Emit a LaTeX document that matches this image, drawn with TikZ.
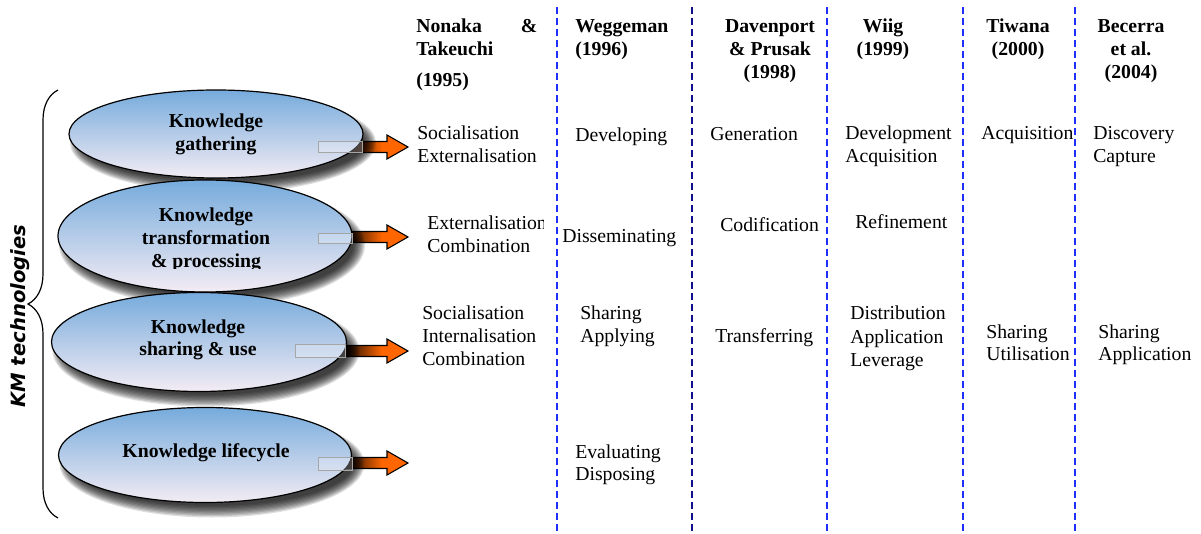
\documentclass[tikz,border=0pt]{standalone}
\usepackage{fontspec}
\setmainfont{Liberation Serif}
\newfontfamily\kmsans{DejaVu Sans}
\usetikzlibrary{shapes.geometric,decorations.pathreplacing,calc}
\definecolor{ellTop}{HTML}{76ABDC}
\definecolor{ellMid}{HTML}{98C6EC}
\definecolor{ellBot}{HTML}{F3ECF4}
\definecolor{arrOr}{HTML}{FF6600}
\definecolor{arrDk}{HTML}{2A1200}
\definecolor{dashBlue}{HTML}{1F2FFF}
\definecolor{dashNavy}{HTML}{10108F}
\newcommand\kmlines[2][l]{\begin{tabular}[t]{@{}#1@{}}#2\end{tabular}}
\newcommand\kmshadow[3]{%
  \foreach \k in {0,...,9}{%
    \fill[black,opacity=0.13] ($(#1)+(7,9)$) ellipse [x radius={(#2+6-1.3*\k)*0.75pt}, y radius={(#3+6-1.3*\k)*0.75pt}];}}
\newcommand\kmarrow[1]{%
  \fill[arrDk] ($(#1)+(-95,-5.5)$) rectangle ($(#1)+(-60,5.5)$);
  \shade[left color=arrDk, right color=arrOr] ($(#1)+(-60,-5.5)$) rectangle ($(#1)+(-26,5.5)$);
  \fill[arrOr] ($(#1)+(-26.5,-5.5)$) rectangle ($(#1)+(-21,5.5)$);
  \fill[arrOr] ($(#1)+(-21,-12)$) -- (#1) -- ($(#1)+(-21,12)$) -- cycle;
  \draw[line width=0.8pt, line join=miter] ($(#1)+(-95,-5.5)$) -- ($(#1)+(-21,-5.5)$) -- ($(#1)+(-21,-12)$) -- (#1) -- ($(#1)+(-21,12)$) -- ($(#1)+(-21,5.5)$) -- ($(#1)+(-95,5.5)$);}
\tikzset{
  kmell/.style={ellipse, draw=black, line width=0.9pt, top color=ellTop, middle color=ellMid, bottom color=ellBot, inner sep=0pt},
  kmtxt/.style={anchor=base west, inner sep=0pt},
  kmhead/.style={anchor=base, inner sep=0pt, font=\fontsize{14.8}{17.25}\selectfont\bfseries},
  kmin/.style={anchor=base, inner sep=0pt, font=\fontsize{14.8}{17}\selectfont\bfseries},
  kmdash/.style={dash pattern=on 5.25pt off 3pt, line width=1.3pt},
  kmgrey/.style={draw=gray!70, line width=0.6pt, fill=white, fill opacity=0.25},
}
\begin{document}
\begin{tikzpicture}[x=0.75pt,y=-0.75pt, font=\fontsize{14.8}{17}\selectfont]
\useasboundingbox (0,0) rectangle (1201,534);
% dashed separators
\foreach \n/\xx/\cc in {1/557/dashBlue,2/692/dashNavy,3/827/dashBlue,4/963/dashBlue,5/1075/dashBlue}{
  \coordinate (dt\n) at (\xx,7);
  \coordinate (db\n) at (\xx,534);
  \draw[kmdash, \cc] (dt\n) -- (db\n);
}
% ellipse centres and arrow tips
\coordinate (c1) at (216,134);
\coordinate (c2) at (205,236);
\coordinate (c3) at (199,342);
\coordinate (c4) at (205,455);
\coordinate (a1) at (408,147);
\coordinate (a2) at (408,237);
\coordinate (a3) at (408,351);
\coordinate (a4) at (408,463);
% arrows
\kmarrow{a1}
\kmarrow{a2}
\kmarrow{a3}
\kmarrow{a4}
% shadows
\kmshadow{c1}{147}{44}
\kmshadow{c2}{147}{56}
\kmshadow{c3}{147.5}{49.5}
\kmshadow{c4}{146.5}{47.5}
% ellipses
\node[kmell, minimum width=220.5pt, minimum height=66pt] (e1) at (c1) {};
\node[kmell, minimum width=220.5pt, minimum height=84pt] (e2) at (c2) {};
\node[kmell, minimum width=221.25pt, minimum height=74.25pt] (e3) at (c3) {};
\node[kmell, minimum width=219.75pt, minimum height=71.25pt] (e4) at (c4) {};
% grey boxes
\draw[kmgrey] (318,141) rectangle (362,152);
\draw[kmgrey] (318,233) rectangle (352,243);
\draw[kmgrey] (295,344) rectangle (345,357);
\draw[kmgrey] (318,457) rectangle (352,470);
% ellipse texts
\node[kmin] (t1) at (216,128) {\kmlines[c]{Knowledge\\gathering}};
\begin{scope}
  \clip (100,195) rectangle (320,268.5);
  \node[kmin] (t2) at (206,222) {\kmlines[c]{Knowledge\\transformation\\\& processing}};
\end{scope}
\node[kmin] (t3) at (198,333) {\kmlines[c]{Knowledge\\sharing \& use}};
\node[kmin] (t4) at (206,457) {Knowledge lifecycle};
% brace and side label
\coordinate (bt) at (58,90);
\coordinate (bb) at (58,518);
\draw[decorate, decoration={brace, amplitude=22.5pt}, line width=0.9pt] (bb) -- (bt);
\node[rotate=90, anchor=base, inner sep=0pt, font=\kmsans\bfseries\itshape\fontsize{14.7}{16}\selectfont] (km) at (25,316) {KM technologies};
% headers
\node[kmtxt, font=\fontsize{14.8}{17.25}\selectfont\bfseries] (h1) at (416,33) {\kmlines{\makebox[90.75pt][s]{Nonaka\hfill\&}\\Takeuchi\\[6pt](1995)}};
\node[kmtxt, font=\fontsize{14.8}{17.25}\selectfont\bfseries] (h2) at (575,33) {\kmlines{Weggeman\\(1996)}};
\node[kmhead] (h3) at (770,33) {\kmlines[c]{Davenport\\\& Prusak\\(1998)}};
\node[kmhead] (h4) at (883,33) {\kmlines[c]{Wiig\\(1999)}};
\node[kmhead] (h5) at (1018,33) {\kmlines[c]{Tiwana\\(2000)}};
\node[kmhead] (h6) at (1131,33) {\kmlines[c]{Becerra\\et al.\\(2004)}};
% Nonaka & Takeuchi
\node[kmtxt] (n1) at (417,140) {\kmlines{Socialisation\\Externalisation}};
\begin{scope}
  \clip (420,200) rectangle (543,262);
  \node[kmtxt] (n2) at (427,230) {\kmlines{Externalisation\\Combination}};
\end{scope}
\node[kmtxt, font=\fontsize{14.8}{17.6}\selectfont] (n3) at (422,319) {\kmlines{Socialisation\\Internalisation\\Combination}};
% Weggeman
\node[kmtxt] (w1) at (575,142) {Developing};
\node[kmtxt] (w2) at (562,243) {Disseminating};
\node[kmtxt] (w3) at (580,320) {\kmlines{Sharing\\Applying}};
\node[kmtxt] (w4) at (575,458) {\kmlines{Evaluating\\Disposing}};
% Davenport & Prusak
\node[kmtxt] (d1) at (710,141) {Generation};
\node[kmtxt] (d2) at (720,232) {Codification};
\node[kmtxt] (d3) at (715,342) {Transferring};
% Wiig
\node[kmtxt] (wi1) at (845,140) {\kmlines{Development\\Acquisition}};
\node[kmtxt] (wi2) at (855,229) {Refinement};
\node[kmtxt, font=\fontsize{14.8}{17.4}\selectfont] (wi3) at (850,320) {\kmlines{Distribution\\Application\\Leverage}};
% Tiwana
\node[kmtxt] (ti1) at (981,140) {Acquisition};
\node[kmtxt] (ti3) at (986,338) {\kmlines{Sharing\\Utilisation}};
% Becerra
\node[kmtxt] (b1) at (1093,140) {\kmlines{Discovery\\Capture}};
\node[kmtxt] (b3) at (1098,338) {\kmlines{Sharing\\Application}};
\end{tikzpicture}
\end{document}
